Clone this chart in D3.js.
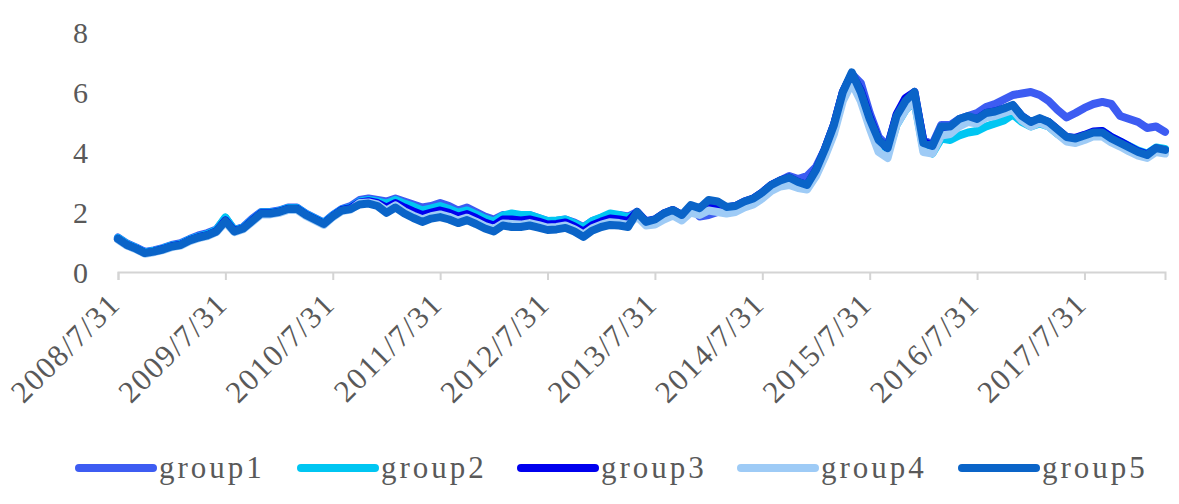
<!DOCTYPE html>
<html><head><meta charset="utf-8">
<script src="https://cdn.jsdelivr.net/npm/d3@7"></script>
<style>
html,body{margin:0;padding:0;background:#fff;}
svg{display:block;}
.serif{font-family:"Liberation Serif";}
</style></head>
<body><svg id="chart" width="1179" height="504"></svg>
<script>
// monthly month-end categories, 2008/7/31 .. 2018/4/30
const startYear = 2008, startMonth = 7, nMonths = 118;
const dates = [];
for (let k = 0; k < nMonths; k++) {
  const m0 = startMonth - 1 + k;
  const y = startYear + Math.floor(m0 / 12), m = m0 % 12 + 1;
  const last = new Date(y, m, 0).getDate();
  dates.push(y + "/" + m + "/" + last);
}
const tickLabels = ["2008/7/31","2009/7/31","2010/7/31","2011/7/31","2012/7/31","2013/7/31","2014/7/31","2015/7/31","2016/7/31","2017/7/31"];
const yTicks = [0, 2, 4, 6, 8];
const seriesNames = ["group1","group2","group3","group4","group5"];

const group1 = [1.15,0.95,0.82,0.67,0.72,0.80,0.90,0.96,1.10,1.22,
1.30,1.42,1.80,1.40,1.50,1.78,2.00,2.00,2.05,2.15,
2.15,1.95,1.80,1.65,1.90,2.10,2.20,2.40,2.45,2.40,
2.35,2.45,2.35,2.25,2.15,2.20,2.30,2.20,2.05,2.15,
2.00,1.85,1.75,1.90,1.85,1.85,1.90,1.80,1.70,1.70,
1.75,1.65,1.50,1.70,1.80,1.90,1.90,1.85,2.00,1.70,
1.75,1.95,2.05,1.90,2.15,1.85,1.90,2.00,2.10,2.15,
2.30,2.45,2.65,2.90,3.05,3.20,3.10,3.20,3.50,4.10,
4.90,6.00,6.60,6.30,5.30,4.50,4.20,5.20,5.70,5.90,
4.40,4.25,4.90,4.90,5.10,5.20,5.30,5.50,5.60,5.75,
5.90,5.95,6.00,5.90,5.70,5.40,5.15,5.30,5.47,5.60,
5.67,5.60,5.20,5.10,5.00,4.80,4.85,4.67];

const group2 = [1.13,0.93,0.80,0.65,0.70,0.78,0.88,0.93,1.08,1.18,
1.26,1.40,1.82,1.38,1.48,1.74,1.98,1.98,2.03,2.13,
2.13,1.93,1.78,1.63,1.88,2.08,2.15,2.35,2.40,2.35,
2.28,2.40,2.28,2.18,2.05,2.12,2.20,2.10,1.98,2.05,
1.92,1.78,1.68,1.88,1.95,1.90,1.90,1.80,1.70,1.72,
1.75,1.62,1.48,1.70,1.82,1.95,1.90,1.82,1.95,1.62,
1.70,1.90,2.00,1.85,2.15,2.05,2.30,2.25,2.07,2.10,
2.25,2.35,2.55,2.80,2.95,3.05,2.90,2.80,3.30,4.00,
4.80,5.90,6.50,5.85,4.90,4.20,3.95,4.90,5.40,5.70,
4.10,3.95,4.45,4.40,4.55,4.65,4.70,4.85,4.95,5.05,
5.25,5.00,4.85,4.95,4.85,4.60,4.40,4.40,4.50,4.65,
4.70,4.50,4.35,4.20,4.05,3.95,4.15,4.10];

const group3 = [1.10,0.90,0.78,0.63,0.68,0.76,0.86,0.91,1.06,1.16,
1.23,1.36,1.72,1.36,1.46,1.72,1.96,1.96,2.01,2.11,
2.11,1.91,1.76,1.61,1.86,2.07,2.13,2.32,2.36,2.30,
2.15,2.30,2.15,2.02,1.90,1.98,2.05,1.97,1.85,1.93,
1.80,1.65,1.55,1.75,1.75,1.72,1.75,1.68,1.58,1.60,
1.65,1.52,1.35,1.56,1.68,1.78,1.75,1.70,2.00,1.67,
1.75,1.95,2.07,1.90,2.10,1.95,2.20,2.25,2.15,2.20,
2.35,2.45,2.65,2.90,3.05,3.15,3.00,2.90,3.40,4.10,
4.90,6.00,6.60,6.05,5.15,4.40,4.13,5.25,5.80,6.00,
4.35,4.20,4.80,4.75,5.00,5.15,5.10,5.30,5.35,5.45,
5.55,5.20,5.00,5.10,5.00,4.75,4.50,4.47,4.57,4.68,
4.70,4.50,4.35,4.18,4.02,3.92,4.12,4.05];

const group4 = [1.08,0.88,0.76,0.61,0.66,0.73,0.83,0.88,1.03,1.13,
1.20,1.33,1.66,1.33,1.43,1.67,1.92,1.92,1.97,2.07,
2.07,1.87,1.72,1.57,1.83,2.03,2.08,2.30,2.32,2.25,
2.05,2.22,2.02,1.88,1.76,1.86,1.92,1.84,1.72,1.81,
1.68,1.53,1.44,1.62,1.60,1.58,1.63,1.56,1.48,1.50,
1.55,1.43,1.25,1.46,1.58,1.66,1.63,1.58,1.85,1.55,
1.58,1.75,1.88,1.72,1.98,1.90,2.05,2.00,1.95,2.00,
2.15,2.25,2.45,2.70,2.85,2.90,2.80,2.75,3.20,3.85,
4.60,5.70,6.30,5.70,4.80,4.00,3.80,4.90,5.40,5.70,
4.00,3.95,4.55,4.60,4.85,5.00,4.95,5.15,5.20,5.30,
5.40,5.05,4.85,4.98,4.85,4.60,4.35,4.30,4.40,4.52,
4.52,4.32,4.18,4.02,3.88,3.80,4.00,3.95];

const group5 = [1.10,0.90,0.78,0.63,0.68,0.75,0.85,0.90,1.05,1.15,
1.22,1.35,1.70,1.35,1.45,1.70,1.95,1.95,2.00,2.10,
2.10,1.90,1.75,1.60,1.85,2.05,2.10,2.25,2.28,2.20,
1.97,2.15,1.95,1.80,1.67,1.78,1.83,1.75,1.63,1.73,
1.60,1.45,1.35,1.55,1.50,1.50,1.55,1.48,1.40,1.42,
1.47,1.35,1.17,1.38,1.50,1.57,1.55,1.50,2.00,1.67,
1.75,1.95,2.07,1.90,2.23,2.13,2.40,2.35,2.17,2.20,
2.35,2.45,2.65,2.90,3.05,3.15,3.00,2.90,3.40,4.10,
4.90,6.00,6.65,6.00,5.10,4.40,4.13,5.20,5.70,6.00,
4.30,4.20,4.85,4.85,5.10,5.20,5.10,5.30,5.35,5.45,
5.57,5.20,5.00,5.13,5.00,4.75,4.50,4.45,4.55,4.65,
4.65,4.45,4.30,4.15,4.00,3.90,4.13,4.07];

const colors = ["#3D5CF2","#00C6F2","#0000EE","#9ECBF6","#0A64C8"];
const seriesData = [group1, group2, group3, group4, group5];

const svg = d3.select("#chart");
const x = d3.scalePoint().domain(dates).range([118, 1165]);
const y = d3.scaleLinear().domain([0, 8]).range([272, 32]);

// x axis
const xAxis = d3.axisBottom(x).tickValues(tickLabels).tickSize(8).tickFormat("");
const gx = svg.append("g").attr("transform", "translate(0,272)").call(xAxis);
gx.select(".domain").attr("stroke", "#D4D4D4").attr("stroke-width", 2);
gx.selectAll(".tick line").attr("stroke", "#D4D4D4").attr("stroke-width", 2);

svg.append("g").selectAll("text").data(tickLabels).join("text")
  .attr("class", "serif")
  .attr("transform", d => `translate(${x(d) + 4},306) rotate(-45)`)
  .attr("text-anchor", "end")
  .attr("font-size", 31)
  .attr("letter-spacing", 1.5)
  .attr("fill", "#595959")
  .text(d => d);

// y axis labels
const yAxis = d3.axisLeft(y).tickValues(yTicks).tickSize(0).tickPadding(0);
const gy = svg.append("g").attr("transform", "translate(88,0)").call(yAxis);
gy.attr("font-family", null);
gy.select(".domain").remove();
gy.selectAll("text")
  .attr("class", "serif")
  .attr("font-size", 30)
  .attr("fill", "#595959")
  .attr("dy", "0.35em");

// lines
const line = d3.line().x((d, i) => x(dates[i])).y(d => y(d));
svg.append("g").selectAll("path").data(seriesData).join("path")
  .attr("d", d => line(d))
  .attr("fill", "none")
  .attr("stroke", (d, i) => colors[i])
  .attr("stroke-width", 8)
  .attr("stroke-linejoin", "round")
  .attr("stroke-linecap", "round");

// legend
const legendX = [75, 297, 517, 737, 958];
const lg = svg.append("g").selectAll("g").data(seriesNames).join("g")
  .attr("transform", (d, i) => `translate(${legendX[i]},468)`);
lg.append("line").attr("x1", 4).attr("x2", 78).attr("y1", 0).attr("y2", 0)
  .attr("stroke", (d, i) => colors[i]).attr("stroke-width", 8).attr("stroke-linecap", "round");
lg.append("text").attr("class", "serif").attr("x", 84).attr("y", 10)
  .attr("font-size", 31)
  .attr("letter-spacing", 3)
  .attr("fill", "#595959")
  .text(d => d);
</script>
</body></html>
